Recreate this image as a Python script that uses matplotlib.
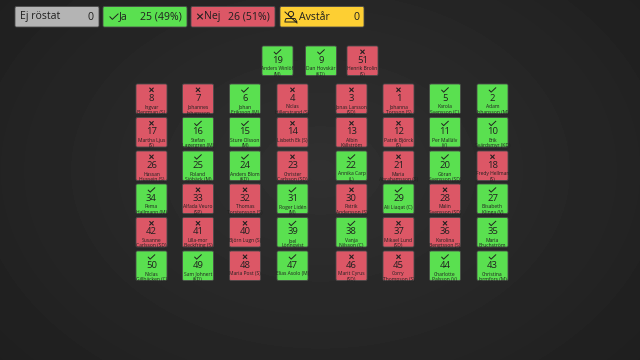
import matplotlib
matplotlib.use('Agg')
import matplotlib.pyplot as plt
from matplotlib.patches import FancyBboxPatch, Circle
import numpy as np

FONT = 'Open Sans'
GREEN = '#5ae050'
RED = '#dc5766'
INK = '#20201f'

# seat numbers, row by row
seats_top = [19, 9, 51]
seats = [
    [8, 7, 6, 4, 3, 1, 5, 2],
    [17, 16, 15, 14, 13, 12, 11, 10],
    [26, 25, 24, 23, 22, 21, 20, 18],
    [34, 33, 32, 31, 30, 29, 28, 27],
    [42, 41, 40, 39, 38, 37, 36, 35],
    [50, 49, 48, 47, 46, 45, 44, 43],
]

yes_votes = [19, 9, 6, 16, 15, 25, 24, 34, 31, 39, 50, 49, 47,
             5, 2, 11, 10, 22, 20, 29, 27, 38, 35, 44, 43]

names = {
    19: 'Anders Winlöf\n(M)', 9: 'Dan Hovskär\n(KD)', 51: 'Henrik Brolin\n(S)',
    8: 'Ingvar\nBergman (S)', 7: 'Johannes\nJohansson', 6: 'Johan\nEriksson (M)',
    4: 'Niclas\nHillerstrand (S)', 3: 'Jonas Larsson\n(SD)', 1: 'Johanna\nTorsson (S)',
    5: 'Karola\nSvensson (C)', 2: 'Adam\nJohansson (M)',
    17: 'Martha Ljus\n(S)', 16: 'Stefan\nLagergren (M)', 15: 'Sture Olsson\n(M)',
    14: 'Lisbeth Ek (S)', 13: 'Albin\nKällström', 12: 'Patrik Björck\n(S)',
    11: 'Per Mallälv\n(V)', 10: 'Erik\nSvärdsmyr (KD)',
    26: 'Hassan\nHussein (S)', 25: 'Roland\nSjöbäck (M)', 24: 'Anders Blom\n(KD)',
    23: 'Christer\nCarlsson (SD)', 22: 'Annika Carp\n(L)', 21: 'Maria\nAbrahamsson (S)',
    20: 'Göran\nSvensson (SD)', 18: 'Fredy Hellman\n(S)',
    34: 'Pema\nHallmann (M)', 33: 'Alfada Veuro\n(SP)', 32: 'Thomas\nTorstensson (S)',
    31: 'Roger Lidén\n(M)', 30: 'Patrik\nAndersson (S)', 29: 'Ali Liaqat (C)',
    28: 'Malin\nSvensson (SD)', 27: 'Elisabeth\nKlinga (V)',
    42: 'Susanne\nCarlsson (SD)', 41: 'Lilla-mor\nBeckfring (S)', 40: 'Björn Lugn (S)',
    39: 'Joel\nLönnqvist', 38: 'Vanja\nNilsson (C)', 37: 'Mikael Lund\n(SD)',
    36: 'Karolina\nBengtsson (S)', 35: 'Maria\nBruchström',
    50: 'Niclas\nGillbäcken (C)', 49: 'Sam Johnert\n(KD)', 48: 'Maria Post (S)',
    47: 'Elias Asolo (M)', 46: 'Marit Cyrus\n(SD)', 45: 'Corry\nThompson (S)',
    44: 'Charlotte\nPalsson (V)', 43: 'Christina\nJormfors (M)',
}

legend_labels = ['Ej röstat', 'Ja', 'Nej', 'Avstår']
legend_values = ['0', '25 (49%)', '26 (51%)', '0']

fig = plt.figure(figsize=(6.4, 3.6), dpi=100)
ax = fig.add_axes([0, 0, 1, 1])
ax.set_xlim(0, 640)
ax.set_ylim(360, 0)
ax.axis('off')

# dark background, a bit lighter in the middle
yy, xx = np.mgrid[0:360, 0:640]
dist = np.hypot((xx - 320) / 420, (yy - 170) / 300)
ax.imshow(np.clip(0.19 - 0.07 * dist, 0, 1), cmap='gray', vmin=0, vmax=1,
          extent=(0, 640, 360, 0), aspect='auto', zorder=0)


def box(x, y, w, h, color, edge='#4a4a4a'):
    p = FancyBboxPatch((x + 1, y + 1), w - 2, h - 2, boxstyle='round,pad=1,rounding_size=1.5',
                       fc=color, ec=edge, lw=0.6, zorder=2)
    ax.add_patch(p)
    return p


def check(cx, cy, s=1.0):
    ax.plot([cx - 4 * s, cx - 1.5 * s, cx + 4 * s],
            [cy, cy + 2.6 * s, cy - 2.6 * s], color=INK, lw=0.7,
            solid_capstyle='butt', zorder=3)


def cross(cx, cy, s=1.0):
    for d in (1, -1):
        ax.plot([cx - 2.3 * s, cx + 2.3 * s], [cy - 2.3 * s * d, cy + 2.3 * s * d],
                color=INK, lw=0.8, solid_capstyle='butt', zorder=3)


def tile(x, y, seat):
    yes = seat in yes_votes
    p = box(x, y, 31, 29.5, GREEN if yes else RED)
    cx = x + 15.5
    if yes:
        check(cx, y + 5.8, 0.9)
    else:
        cross(cx, y + 5.8, 0.9)
    ax.text(cx, y + 14.3, str(seat), ha='center', va='center', fontsize=6.8,
            family=FONT, color=INK, zorder=3)
    for i, line in enumerate(names[seat].split('\n')):
        t = ax.text(cx, y + 23 + i * 5.4, line, ha='center', va='center', fontsize=3.6,
                    family=FONT, color=INK, zorder=3)
        t.set_clip_path(p)


# legend boxes
legend_x = [15, 103, 191, 280]
legend_colors = ['#b4b4b4', GREEN, RED, '#fdcf33']
label_x = [20, 119, 204, 299]
for x, color, label, value, lx in zip(legend_x, legend_colors, legend_labels, legend_values, label_x):
    box(x, 6.5, 84, 20.5, color)
    ax.text(lx, 17, label, ha='left', va='center', fontsize=7.6, family=FONT,
            color=INK, zorder=3)
    ax.text(x + 79, 17, value, ha='right', va='center', fontsize=7.6, family=FONT,
            color=INK, zorder=3)
check(114, 16.5, 1.1)
cross(200, 16.5, 1.2)
# abstain icon: person with a slash
ax.add_patch(Circle((291, 14), 2.6, fc='none', ec=INK, lw=0.7, zorder=3))
ax.plot([285, 286, 295, 297, 285], [21, 18.5, 18.5, 22, 22], color=INK, lw=0.7, zorder=3)
ax.plot([285, 297], [12, 23], color=INK, lw=0.7, zorder=3)

# seat layout
top_x = [262, 305.5, 347]
top_y = 46
col_x = [136, 182.5, 229.5, 277, 336, 383, 429.5, 477]
row_y = [84, 117.5, 151, 184, 217.5, 251]

for x, seat in zip(top_x, seats_top):
    tile(x, top_y, seat)
for y, row in zip(row_y, seats):
    for x, seat in zip(col_x, row):
        tile(x, y, seat)

fig.savefig('out.png', dpi=100)
